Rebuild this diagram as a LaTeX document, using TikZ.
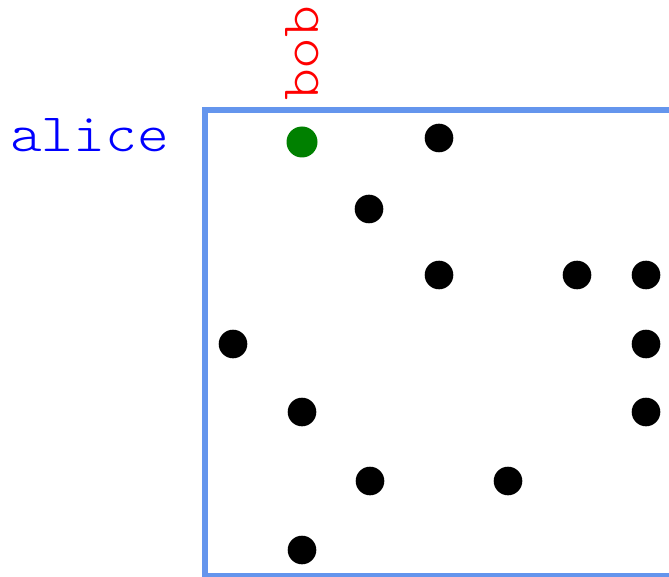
\documentclass[tikz,border=0pt]{standalone}
\usepackage{fontspec}
\newfontfamily\lblfont[FakeStretch=1.12]{lmmonolt10-regular.otf}
\definecolor{framecol}{RGB}{100,149,237}
\definecolor{dotgreen}{RGB}{0,128,0}
\tikzset{
  dot/.style={circle,fill=black,inner sep=0pt,minimum size=28.6pt},
  gdot/.style={circle,fill=dotgreen,inner sep=0pt,minimum size=31pt},
  lbl/.style={inner sep=0pt,font=\fontsize{54pt}{54pt}\lblfont}
}
\begin{document}
\begin{tikzpicture}[x=1pt,y=-1pt]
\useasboundingbox (0,0) rectangle (669,577);
\draw[framecol,line width=5.5pt] (205,110) rectangle (720,575.5);
\node[lbl,text=blue,anchor=base west] (alice) at (10,152) {alice};
\node[lbl,text=red,anchor=base west,rotate=90] (bob) at (318,101) {bob};
\node[gdot] (g) at (302,142) {};
\node[dot] (d1) at (439,138) {};
\node[dot] (d2) at (369,209) {};
\node[dot] (d3) at (439,275) {};
\node[dot] (d4) at (577,275) {};
\node[dot] (d5) at (646,275) {};
\node[dot] (d6) at (233,344) {};
\node[dot] (d7) at (646,344) {};
\node[dot] (d8) at (302,412) {};
\node[dot] (d9) at (646,412) {};
\node[dot] (d10) at (370,481) {};
\node[dot] (d11) at (508,481) {};
\node[dot] (d12) at (302,550) {};
\end{tikzpicture}
\end{document}
